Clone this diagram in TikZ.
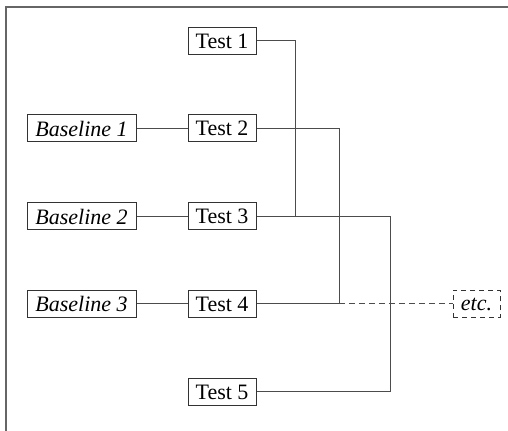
\documentclass[tikz,border=0pt]{standalone}
\usepackage{fontspec}
\setmainfont{Liberation Serif}
\begin{document}
\begin{tikzpicture}[x=0.5pt, y=-0.5pt,
  txt/.style={font=\fontsize{11}{13}\selectfont},
  box/.style={draw=black!80, line width=0.5pt, inner sep=0pt, minimum height=13.5pt, txt},
  testbox/.style={box, minimum width=34pt},
  basebox/.style={box, minimum width=54.5pt, font=\fontsize{11}{13}\selectfont\itshape},
  etcbox/.style={box, dashed, dash pattern=on 2.5pt off 2pt, minimum width=23.5pt, font=\fontsize{11}{13}\selectfont\itshape},
  link/.style={draw=black!70, line width=0.5pt},
  frameline/.style={draw=black!60, line width=1pt}]
  \useasboundingbox (0,0) rectangle (508,431);
  % open frame: top and left edges only
  \coordinate (ftl) at (6,7);
  \coordinate (ftr) at (508,7);
  \coordinate (fbl) at (6,431);
  \draw[frameline] (ftr) -- (ftl) -- (fbl);

  % test runs
  \node[testbox] (t1) at (222,41)    {Test 1};
  \node[testbox] (t2) at (222,128.5) {Test 2};
  \node[testbox] (t3) at (222,216.5) {Test 3};
  \node[testbox] (t4) at (222,304)   {Test 4};
  \node[testbox] (t5) at (222,392)   {Test 5};

  % baselines
  \node[basebox] (b1) at (81.5,128.5) {Baseline 1};
  \node[basebox] (b2) at (81.5,216.5) {Baseline 2};
  \node[basebox] (b3) at (81.5,304)   {Baseline 3};

  \node[etcbox] (etc) at (476.5,304) {etc.};

  % junction points of the merge lines
  \coordinate (j1) at (295,216.5);
  \coordinate (j2) at (339,304);
  \coordinate (j3) at (390,392);

  \draw[link] (b1.east) -- (t2.west);
  \draw[link] (b2.east) -- (t3.west);
  \draw[link] (b3.east) -- (t4.west);

  \draw[link] (t1.east) -| (j1);
  \draw[link] (t3.east) -| (j3) -- (t5.east);
  \draw[link] (t2.east) -| (j2);
  \draw[link] (t4.east) -- (j2);
  \draw[link, dashed, dash pattern=on 3pt off 2pt] (j2) -- (etc.west);
\end{tikzpicture}
\end{document}
